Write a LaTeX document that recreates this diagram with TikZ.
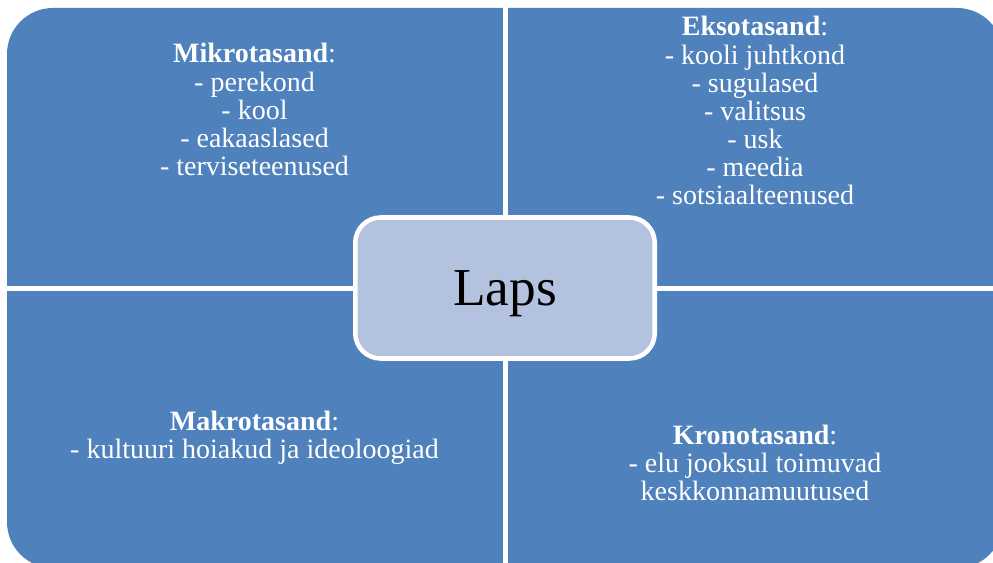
\documentclass[tikz,border=0pt]{standalone}
\usepackage{fontspec}
\setmainfont{Liberation Serif}
\definecolor{quadblue}{RGB}{79,129,189}
\definecolor{centerblue}{RGB}{179,194,222}
\begin{document}
\begin{tikzpicture}[x=0.75pt,y=-0.75pt,
  lbl/.style={text=white, anchor=base, inner sep=0pt, font=\fontsize{21}{21.1}\selectfont},
  centre/.style={draw=white, line width=3.4pt, fill=centerblue, rounded corners=19pt,
    minimum width=224.6pt, minimum height=105.75pt, text depth=0pt,
    font=\fontsize{40}{48}\selectfont, text=black},
  gap/.style={draw=white, line width=3.75pt}]
\useasboundingbox (0,0) rectangle (993,563);
\begin{scope}
  \clip (0,0) rectangle (993,563);
  \fill[quadblue, rounded corners=34.5pt] (7,8) rectangle (1003,568);
  \draw[gap] (505,0) -- (505,563);
  \draw[gap] (0,288) -- (993,288);
\end{scope}
\node[centre] (laps) at (505,288) {Laps};
\node[lbl] (mikro) at (254.5,63) {\setlength\tabcolsep{0pt}\begin{tabular}[t]{c}\textbf{Mikrotasand}:\\- perekond\\- kool\\- eakaaslased\\- terviseteenused\end{tabular}};
\node[lbl] (ekso) at (755,36) {\setlength\tabcolsep{0pt}\begin{tabular}[t]{c}\textbf{Eksotasand}:\\- kooli juhtkond\\- sugulased\\- valitsus\\- usk\\- meedia\\- sotsiaalteenused\end{tabular}};
\node[lbl] (makro) at (254.5,430) {\setlength\tabcolsep{0pt}\begin{tabular}[t]{c}\textbf{Makrotasand}:\\- kultuuri hoiakud ja ideoloogiad\end{tabular}};
\node[lbl] (krono) at (755,444) {\setlength\tabcolsep{0pt}\begin{tabular}[t]{c}\textbf{Kronotasand}:\\- elu jooksul toimuvad\\keskkonnamuutused\end{tabular}};
\end{tikzpicture}
\end{document}
